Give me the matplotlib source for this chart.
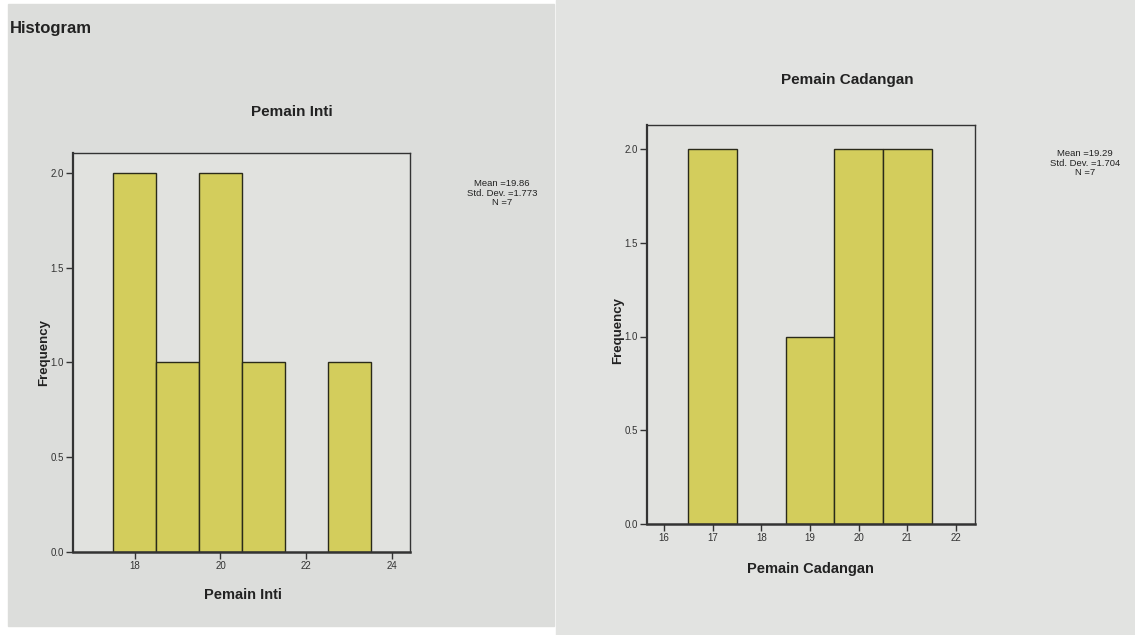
import matplotlib
matplotlib.use("Agg")
import matplotlib.pyplot as plt
from matplotlib.patches import Rectangle

plt.rcParams['font.family'] = ['Liberation Sans', 'DejaVu Sans']

# Data
inti_values = [18, 19, 20, 21, 23]
inti_counts = [2, 1, 2, 1, 1]
inti_xticks = [18, 20, 22, 24]
inti_stats = ["Mean =19.86", "Std. Dev. =1.773", "N =7"]

cad_values = [17, 19, 20, 21]
cad_counts = [2, 1, 2, 2]
cad_xticks = [16, 17, 18, 19, 20, 21, 22]
cad_stats = ["Mean =19.29", "Std. Dev. =1.704", "N =7"]

yticks = [0.0, 0.5, 1.0, 1.5, 2.0]

W, H = 1135, 635
fig = plt.figure(figsize=(W / 100, H / 100), dpi=100)
fig.patch.set_facecolor('white')

def px(x0, y0, w, h):
    return [x0 / W, 1 - (y0 + h) / H, w / W, h / H]

# paper backgrounds
bg = fig.add_axes([0, 0, 1, 1])
bg.set_xlim(0, W); bg.set_ylim(H, 0); bg.axis('off')
bg.add_patch(Rectangle((8, 4), 546, 622, color='#dcdddb', zorder=0))
bg.add_patch(Rectangle((556, 0), 579, 635, color='#e2e3e1', zorder=0))

bar_color = '#d3cd5c'
plot_bg = '#e1e2df'

def draw(ax_rect, values, counts, xlim, ylim, xticks, title, xlabel, title_xy, xlabel_xy, ylabel_xy, stats_xy, stats):
    ax = fig.add_axes(px(*ax_rect))
    ax.set_facecolor(plot_bg)
    ax.bar(values, counts, width=1.0, color=bar_color, edgecolor='#2a2a1a', linewidth=1.0, zorder=2)
    ax.set_xlim(*xlim)
    ax.set_ylim(*ylim)
    ax.set_yticks(yticks)
    ax.set_yticklabels([f"{v:.1f}" for v in yticks], fontsize=7, color='#333333')
    ax.set_xticks(xticks)
    ax.set_xticklabels([str(v) for v in xticks], fontsize=7, color='#333333')
    ax.tick_params(direction='out', length=5, width=1.0, color='#333333', pad=1.5)
    for s in ax.spines.values():
        s.set_color('#333333')
        s.set_linewidth(1.0)
    ax.spines['bottom'].set_linewidth(1.8)
    ax.spines['left'].set_linewidth(1.6)
    fig.text(title_xy[0] / W, 1 - title_xy[1] / H, title, ha='center', va='center',
             fontsize=11, fontweight='bold', color='#222222')
    fig.text(xlabel_xy[0] / W, 1 - xlabel_xy[1] / H, xlabel, ha='center', va='center',
             fontsize=10.5, fontweight='bold', color='#222222')
    fig.text(ylabel_xy[0] / W, 1 - ylabel_xy[1] / H, "Frequency", ha='center', va='center',
             rotation=90, fontsize=9.5, fontweight='bold', color='#222222')
    fig.text(stats_xy[0] / W, 1 - stats_xy[1] / H, "\n".join(stats), ha='center', va='center',
             fontsize=6.8, color='#222222', linespacing=1.05)
    return ax

draw((73, 153, 337, 399), inti_values, inti_counts, (16.56, 24.42), (0, 2.105), inti_xticks,
     "Pemain Inti", "Pemain Inti", (292, 112), (243, 595), (44, 352), (502, 193), inti_stats)

draw((647, 125, 328, 399), cad_values, cad_counts, (15.65, 22.39), (0, 2.128), cad_xticks,
     "Pemain Cadangan", "Pemain Cadangan", (847, 80), (810, 569), (618, 330), (1085, 163), cad_stats)

fig.text(10 / W, 1 - 29 / H, "Histogram", ha='left', va='center', fontsize=12,
         fontweight='bold', color='#222222')

fig.savefig("out.png", dpi=100)
